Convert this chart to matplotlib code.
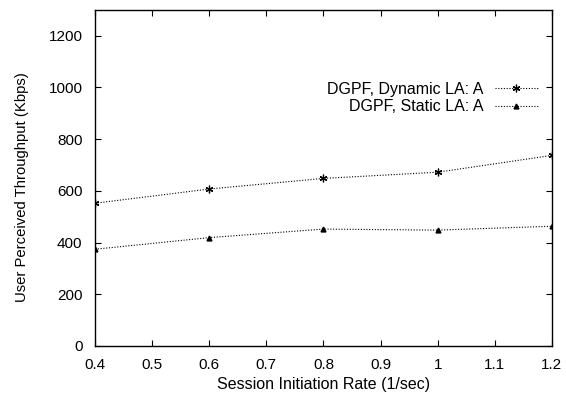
import matplotlib
matplotlib.use('Agg')
import matplotlib.pyplot as plt

# data
rate = [0.4, 0.6, 0.8, 1.0, 1.2]
dynamic_la = [552, 607, 648, 672, 737]
static_la = [374, 419, 452, 448, 463]

plt.rcParams['font.family'] = ['Liberation Sans', 'DejaVu Sans']
plt.rcParams['font.size'] = 11.5

fig = plt.figure(figsize=(5.66, 3.94), dpi=100)
ax = fig.add_axes([0.168, 0.122, 0.807, 0.853])

ax.plot(rate, dynamic_la, color='black', lw=0.8, ls=(0, (1, 1.5)),
        marker=(6, 2, 0), ms=5.5, mew=0.9, label='DGPF, Dynamic LA: A')
ax.plot(rate, static_la, color='black', lw=0.8, ls=(0, (1, 1.5)),
        marker='^', ms=3.5, label='DGPF, Static LA: A')

ax.set_xlim(0.4, 1.2)
ax.set_ylim(0, 1300)
ax.set_xticks([0.4, 0.5, 0.6, 0.7, 0.8, 0.9, 1.0, 1.1, 1.2])
ax.set_xticklabels(['0.4', '0.5', '0.6', '0.7', '0.8', '0.9', '1', '1.1', '1.2'])
ax.set_yticks(range(0, 1201, 200))
ax.tick_params(direction='in', top=True, right=True, length=4, width=0.8,
               labelsize=11)
ax.tick_params(axis='x', pad=9)
ax.tick_params(axis='y', pad=9)
for s in ax.spines.values():
    s.set_linewidth(1.0)

ax.set_xlabel('Session Initiation Rate (1/sec)', labelpad=3)
ax.set_ylabel('User Perceived Throughput (Kbps)', fontsize=10.75)
ax.yaxis.set_label_coords(-0.144, 0.473)

leg = ax.legend(loc='upper right', bbox_to_anchor=(0.969, 0.786), frameon=False,
                markerfirst=False, handlelength=2.7, handletextpad=0.7,
                labelspacing=0.15, borderpad=0, borderaxespad=0)
for t in leg.get_texts():
    t.set_ha('right')
leg._legend_box.align = 'right'

fig.savefig('out.png', dpi=100)
